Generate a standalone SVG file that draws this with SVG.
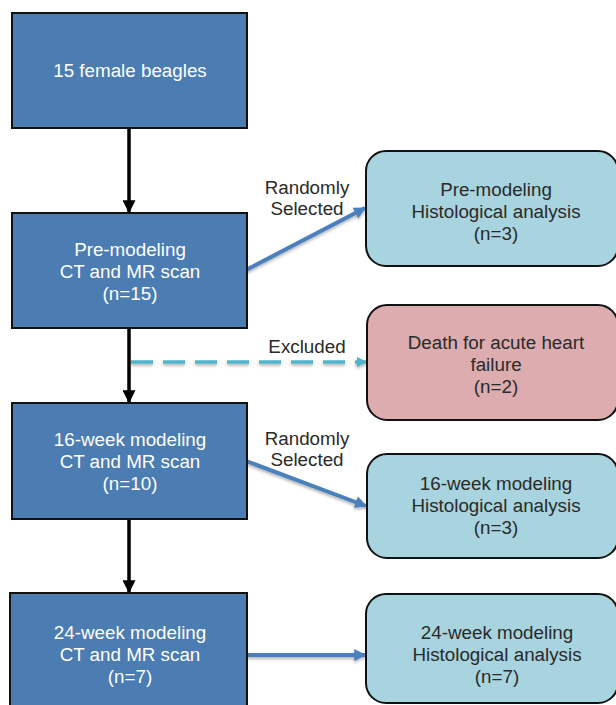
<svg xmlns="http://www.w3.org/2000/svg" width="616" height="705" viewBox="0 0 616 705">
<defs>
<style>
.main{fill:#4b7cb2;stroke:#111;stroke-width:2}
.histo{fill:#a8d4df;stroke:#111;stroke-width:2}
.death{fill:#dcacae;stroke:#111;stroke-width:2}
.wt{font-family:"Liberation Sans",Arial,sans-serif;font-size:18.8px;fill:#ffffff;text-anchor:middle}
.dt{font-family:"Liberation Sans",Arial,sans-serif;font-size:18.8px;fill:#2a2a2a;text-anchor:middle}
.blk{stroke:#000;stroke-width:3.5;fill:none}
.blue{stroke:#4a80bd;stroke-width:4;fill:none}
.dash{stroke:#4fb4cb;stroke-width:3.5;fill:none;stroke-dasharray:22 10}
</style>
<marker id="ah" viewBox="0 0 10 10" refX="9" refY="5" markerUnits="userSpaceOnUse" markerWidth="13" markerHeight="13" orient="auto">
<path d="M0,0 L10,5 L0,10 z" fill="#000"/>
</marker>
<marker id="ahb" viewBox="0 0 10 10" refX="9" refY="5" markerUnits="userSpaceOnUse" markerWidth="13" markerHeight="12" orient="auto">
<path d="M0,0 L10,5 L0,10 z" fill="#4a80bd"/>
</marker>
<marker id="ahc" viewBox="0 0 10 10" refX="9" refY="5" markerUnits="userSpaceOnUse" markerWidth="11" markerHeight="10" orient="auto">
<path d="M0,0 L10,5 L0,10 z" fill="#4fb4cb"/>
</marker>
<filter id="sh" x="-20%" y="-20%" width="140%" height="140%">
<feDropShadow dx="0" dy="2" stdDeviation="1.5" flood-color="#000" flood-opacity="0.3"/>
</filter>
</defs>
<g id="connectors">
<line class="blk" x1="129" y1="128" x2="129" y2="212" marker-end="url(#ah)"/>
<line class="blk" x1="129" y1="328" x2="129" y2="402" marker-end="url(#ah)"/>
<line class="blk" x1="129" y1="519" x2="129" y2="592" marker-end="url(#ah)"/>
<g filter="url(#sh)">
<line class="blue" x1="246" y1="270" x2="365" y2="208" marker-end="url(#ahb)"/>
<line class="blue" x1="246" y1="461" x2="366" y2="506" marker-end="url(#ahb)"/>
<line class="blue" x1="247" y1="655" x2="365" y2="655" marker-end="url(#ahb)"/>
<line class="dash" x1="131" y1="362" x2="366" y2="362" marker-end="url(#ahc)"/>
</g>
<text class="dt" x="307" y="194">Randomly</text>
<text class="dt" x="307" y="215">Selected</text>
<text class="dt" x="307" y="353">Excluded</text>
<text class="dt" x="307" y="445">Randomly</text>
<text class="dt" x="307" y="466">Selected</text>
</g>
<g id="n1">
<rect class="main" x="12" y="13" width="235" height="115"/>
<text class="wt" x="130" y="77">15 female beagles</text>
</g>
<g id="n2">
<rect class="main" x="12" y="213" width="235" height="115"/>
<text class="wt" x="130" y="256">Pre-modeling</text>
<text class="wt" x="130" y="278">CT and MR scan</text>
<text class="wt" x="130" y="300">(n=15)</text>
</g>
<g id="n3">
<rect class="main" x="12" y="403" width="235" height="116"/>
<text class="wt" x="130" y="446">16-week modeling</text>
<text class="wt" x="130" y="468">CT and MR scan</text>
<text class="wt" x="130" y="490">(n=10)</text>
</g>
<g id="n4">
<rect class="main" x="10" y="593" width="237" height="130"/>
<text class="wt" x="130" y="639">24-week modeling</text>
<text class="wt" x="130" y="661">CT and MR scan</text>
<text class="wt" x="130" y="683">(n=7)</text>
</g>
<g id="h1">
<rect class="histo" x="366" y="151" width="252" height="115" rx="20"/>
<text class="dt" x="496" y="196">Pre-modeling</text>
<text class="dt" x="496" y="218">Histological analysis</text>
<text class="dt" x="496" y="240">(n=3)</text>
</g>
<g id="d1">
<rect class="death" x="367" y="305" width="251" height="115" rx="20"/>
<text class="dt" x="496" y="349">Death for acute heart</text>
<text class="dt" x="496" y="371">failure</text>
<text class="dt" x="496" y="393">(n=2)</text>
</g>
<g id="h2">
<rect class="histo" x="367" y="454" width="251" height="104" rx="20"/>
<text class="dt" x="496" y="490">16-week modeling</text>
<text class="dt" x="496" y="512">Histological analysis</text>
<text class="dt" x="496" y="534">(n=3)</text>
</g>
<g id="h3">
<rect class="histo" x="366" y="594" width="252" height="109" rx="20"/>
<text class="dt" x="497" y="639">24-week modeling</text>
<text class="dt" x="497" y="661">Histological analysis</text>
<text class="dt" x="497" y="683">(n=7)</text>
</g>
</svg>
